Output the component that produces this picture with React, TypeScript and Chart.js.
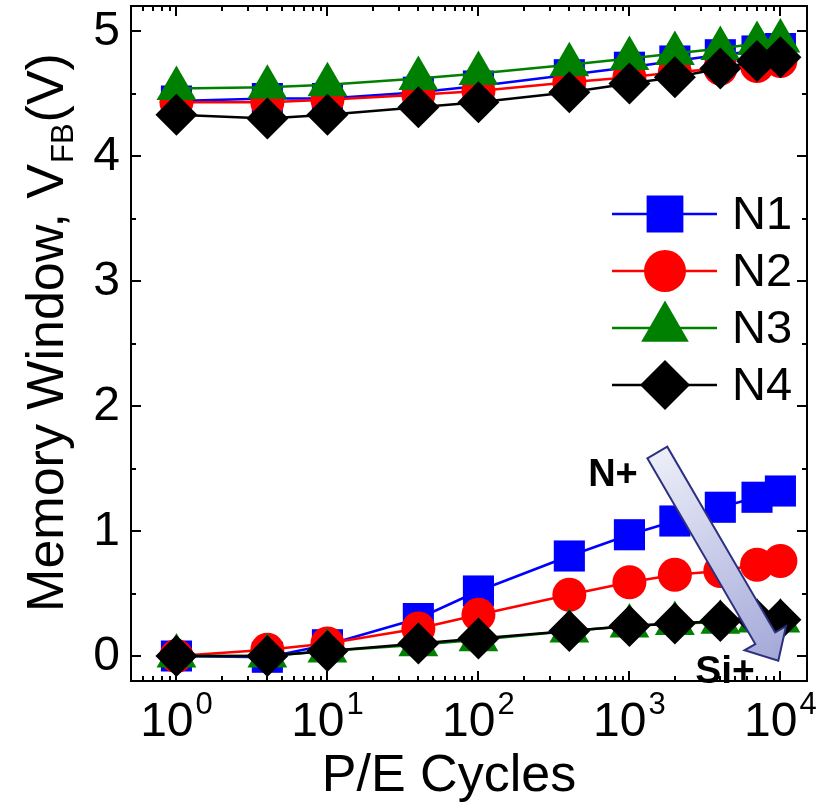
import React, { useEffect, useRef } from 'react';
import { Chart, registerables } from 'chart.js';

Chart.register(...registerables);

// ---- data ----
const CYCLES = [1, 4, 10, 40, 100, 400, 1000, 2000, 4000, 7000, 10000];

const N1_PROGRAM = [4.44, 4.46, 4.46, 4.51, 4.56, 4.65, 4.71, 4.76, 4.81, 4.84, 4.86];
const N1_ERASE = [0.0, -0.01, 0.09, 0.3, 0.52, 0.8, 0.97, 1.08, 1.19, 1.27, 1.32];
const N2_PROGRAM = [4.43, 4.43, 4.45, 4.49, 4.52, 4.59, 4.63, 4.67, 4.7, 4.72, 4.76];
const N2_ERASE = [0.0, 0.05, 0.1, 0.22, 0.33, 0.49, 0.59, 0.65, 0.68, 0.73, 0.76];
const N3_PROGRAM = [4.54, 4.55, 4.57, 4.62, 4.66, 4.73, 4.78, 4.82, 4.86, 4.9, 4.92];
const N3_ERASE = [0.0, 0.0, 0.04, 0.09, 0.13, 0.2, 0.24, 0.26, 0.27, 0.28, 0.28];
const N4_PROGRAM = [4.33, 4.3, 4.33, 4.39, 4.43, 4.51, 4.58, 4.63, 4.7, 4.76, 4.79];
const N4_ERASE = [0.0, 0.0, 0.04, 0.1, 0.14, 0.2, 0.24, 0.26, 0.28, 0.29, 0.29];

const SERIES_NAMES = ['N1', 'N2', 'N3', 'N4'];
const Y_TICK_VALUES = [0, 1, 2, 3, 4, 5];
const X_DECADES = [0, 1, 2, 3, 4];
const X_MIN = 0.5;
const X_MAX = 15000;
const Y_MIN = -0.2;
const Y_MAX = 5.2;

const X_TITLE = 'P/E Cycles';
const Y_TITLE_MAIN = 'Memory Window, V';
const Y_TITLE_SUB = 'FB';
const Y_TITLE_END = '(V)';

// annotation (in data coordinates)
const ARROW_TAIL = { x: 1530, y: 1.628 };
const ARROW_TIP = { x: 9683, y: -0.038 };
const NOTE_TOP = { text: 'N+', x: 778, y: 1.44 };
const NOTE_BOTTOM = { text: 'Si+', x: 4295, y: -0.128 };

// ---- styles ----
const FONT = '"Liberation Sans", Arial, Helvetica, sans-serif';
const STYLES = [
  { color: '#0000ff', shape: 'rect', radius: 22, legendRadius: 26 },
  { color: '#ff0000', shape: 'circle', radius: 17, legendRadius: 21 },
  { color: '#008000', shape: 'triangle', radius: 23, legendRadius: 27.5 },
  { color: '#000000', shape: 'rectRot', radius: 21, legendRadius: 25 },
];

function markerPath(ctx: CanvasRenderingContext2D, shape: string, x: number, y: number, r: number) {
  ctx.beginPath();
  if (shape === 'rect') {
    const s = r * Math.SQRT1_2;
    ctx.rect(x - s, y - s, 2 * s, 2 * s);
  } else if (shape === 'circle') {
    ctx.arc(x, y, r, 0, Math.PI * 2);
  } else if (shape === 'triangle') {
    const sx = r * Math.sin((2 * Math.PI) / 3);
    ctx.moveTo(x, y - r);
    ctx.lineTo(x + sx, y + r / 2);
    ctx.lineTo(x - sx, y + r / 2);
    ctx.closePath();
  } else {
    ctx.moveTo(x, y - r);
    ctx.lineTo(x + r, y);
    ctx.lineTo(x, y + r);
    ctx.lineTo(x - r, y);
    ctx.closePath();
  }
}

const decorPlugin = {
  id: 'decor',
  afterDatasetsDraw(chart: any) {
    const ctx: CanvasRenderingContext2D = chart.ctx;
    const xs = chart.scales.x;
    const ys = chart.scales.y;
    const { left, right, top, bottom } = chart.chartArea;
    ctx.save();

    // frame
    ctx.strokeStyle = '#000';
    ctx.lineWidth = 2;
    ctx.strokeRect(left, top, right - left, bottom - top);

    // y ticks (inward, both sides)
    for (let v = 0; v <= 5.0001; v += 0.5) {
      const py = Math.round(ys.getPixelForValue(v));
      const len = Math.abs(v - Math.round(v)) < 1e-6 ? 10 : 5;
      ctx.beginPath();
      ctx.moveTo(left, py);
      ctx.lineTo(left + len, py);
      ctx.moveTo(right, py);
      ctx.lineTo(right - len, py);
      ctx.stroke();
    }
    // x ticks
    const xTicks: { v: number; major: boolean }[] = [];
    for (let e = -1; e <= 4; e++) {
      for (let k = 1; k <= 9; k++) {
        const v = k * Math.pow(10, e);
        if (v <= X_MIN || v >= X_MAX) continue;
        xTicks.push({ v, major: k === 1 });
      }
    }
    for (const t of xTicks) {
      const px = Math.round(xs.getPixelForValue(t.v));
      const len = t.major ? 10 : 5;
      ctx.beginPath();
      ctx.moveTo(px, bottom);
      ctx.lineTo(px, bottom - len);
      ctx.moveTo(px, top);
      ctx.lineTo(px, top + len);
      ctx.stroke();
    }

    // y tick labels
    ctx.fillStyle = '#000';
    ctx.font = `48px ${FONT}`;
    ctx.textAlign = 'right';
    ctx.textBaseline = 'middle';
    for (const v of Y_TICK_VALUES) {
      ctx.fillText(String(v), left - 11, ys.getPixelForValue(v) + 1);
    }

    // x tick labels 10^n
    ctx.textBaseline = 'alphabetic';
    ctx.textAlign = 'left';
    for (const e of X_DECADES) {
      const px = xs.getPixelForValue(Math.pow(10, e));
      ctx.font = `48px ${FONT}`;
      const w1 = ctx.measureText('10').width;
      ctx.font = `31px ${FONT}`;
      const w2 = ctx.measureText(String(e)).width;
      const start = px - (w1 + 2 + w2) / 2;
      ctx.font = `48px ${FONT}`;
      ctx.fillText('10', start, bottom + 55);
      ctx.font = `31px ${FONT}`;
      ctx.fillText(String(e), start + w1 + 2, bottom + 33);
    }

    // x title
    ctx.font = `52px ${FONT}`;
    ctx.textAlign = 'center';
    ctx.fillText(X_TITLE, (left + right) / 2 - 20, bottom + 110);

    // y title (rotated)
    ctx.save();
    ctx.translate(63, (top + bottom) / 2 - 11);
    ctx.rotate(-Math.PI / 2);
    ctx.font = `52px ${FONT}`;
    const a = ctx.measureText(Y_TITLE_MAIN).width;
    ctx.font = `31px ${FONT}`;
    const b = ctx.measureText(Y_TITLE_SUB).width;
    ctx.font = `52px ${FONT}`;
    const c = ctx.measureText(Y_TITLE_END).width;
    let sx = -(a + b + c + 2) / 2;
    ctx.textAlign = 'left';
    ctx.fillText(Y_TITLE_MAIN, sx, 0);
    sx += a + 1;
    ctx.font = `31px ${FONT}`;
    ctx.fillText(Y_TITLE_SUB, sx, 10);
    sx += b + 1;
    ctx.font = `52px ${FONT}`;
    ctx.fillText(Y_TITLE_END, sx, 0);
    ctx.restore();

    // arrow
    const tx = xs.getPixelForValue(ARROW_TAIL.x);
    const ty = ys.getPixelForValue(ARROW_TAIL.y);
    const hx = xs.getPixelForValue(ARROW_TIP.x);
    const hy = ys.getPixelForValue(ARROW_TIP.y);
    const L = Math.hypot(hx - tx, hy - ty);
    const ux = (hx - tx) / L;
    const uy = (hy - ty) / L;
    const nx = -uy;
    const ny = ux;
    const hw = 11.5;
    const hh = 24;
    const hl = 26;
    const bx = hx - ux * hl;
    const by = hy - uy * hl;
    const pts = [
      [tx + nx * hw, ty + ny * hw],
      [bx + nx * hw, by + ny * hw],
      [bx + nx * hh, by + ny * hh],
      [hx, hy],
      [bx - nx * hh, by - ny * hh],
      [bx - nx * hw, by - ny * hw],
      [tx - nx * hw, ty - ny * hw],
    ];
    const grad = ctx.createLinearGradient(tx, ty, hx, hy);
    grad.addColorStop(0, '#eceef8');
    grad.addColorStop(1, '#a3a8d8');
    ctx.beginPath();
    ctx.moveTo(pts[0][0], pts[0][1]);
    for (let i = 1; i < pts.length; i++) ctx.lineTo(pts[i][0], pts[i][1]);
    ctx.closePath();
    ctx.fillStyle = grad;
    ctx.fill();
    ctx.strokeStyle = '#2d3080';
    ctx.lineWidth = 2;
    ctx.lineJoin = 'miter';
    ctx.stroke();

    // notes
    ctx.fillStyle = '#000';
    ctx.font = `bold 38px ${FONT}`;
    ctx.textAlign = 'center';
    ctx.textBaseline = 'middle';
    ctx.fillText(NOTE_TOP.text, xs.getPixelForValue(NOTE_TOP.x), ys.getPixelForValue(NOTE_TOP.y));
    ctx.font = `bold 39px ${FONT}`;
    ctx.fillText(NOTE_BOTTOM.text, xs.getPixelForValue(NOTE_BOTTOM.x), ys.getPixelForValue(NOTE_BOTTOM.y));

    // legend
    const lx0 = right - 195;
    const lx1 = right - 90;
    const mx = right - 142;
    const textX = right - 75;
    const rowY0 = top + 208;
    const rowGap = 57;
    SERIES_NAMES.forEach((name, i) => {
      const st = STYLES[i];
      const y = rowY0 + i * rowGap;
      ctx.strokeStyle = st.color;
      ctx.lineWidth = 2.5;
      ctx.beginPath();
      ctx.moveTo(lx0, y);
      ctx.lineTo(lx1, y);
      ctx.stroke();
      ctx.fillStyle = st.color;
      markerPath(ctx, st.shape, mx, y, st.legendRadius);
      ctx.fill();
      ctx.fillStyle = '#000';
      ctx.font = `47px ${FONT}`;
      ctx.textAlign = 'left';
      ctx.textBaseline = 'middle';
      ctx.fillText(name, textX, y + 2);
    });

    ctx.restore();
  },
};

export default function App() {
  const ref = useRef<HTMLCanvasElement | null>(null);
  useEffect(() => {
    if (!ref.current) return;
    const groups = [
      [N1_PROGRAM, N1_ERASE],
      [N2_PROGRAM, N2_ERASE],
      [N3_PROGRAM, N3_ERASE],
      [N4_PROGRAM, N4_ERASE],
    ];
    const datasets: any[] = [];
    groups.forEach((g, i) => {
      const st = STYLES[i];
      g.forEach((vals, j) => {
        datasets.push({
          label: SERIES_NAMES[i] + (j === 0 ? ' P' : ' E'),
          data: CYCLES.map((x, k) => ({ x, y: vals[k] })),
          borderColor: st.color,
          backgroundColor: st.color,
          borderWidth: 2.5,
          pointStyle: st.shape,
          pointRadius: st.radius,
          pointHoverRadius: st.radius,
          pointBorderWidth: 0,
          pointBackgroundColor: st.color,
          pointBorderColor: st.color,
          tension: 0,
          clip: false,
          order: 10 - i * 2 - j,
        });
      });
    });
    const chart = new Chart(ref.current, {
      type: 'line',
      data: { datasets },
      options: {
        responsive: false,
        animation: false,
        events: [],
        layout: { autoPadding: false, padding: { left: 131, right: 9, top: 6, bottom: 127 } },
        plugins: { legend: { display: false }, tooltip: { enabled: false } },
        scales: {
          x: { type: 'logarithmic', min: X_MIN, max: X_MAX, display: false },
          y: { type: 'linear', min: Y_MIN, max: Y_MAX, display: false },
        },
      },
      plugins: [decorPlugin],
    });
    return () => chart.destroy();
  }, []);
  return (
    <div style={{ position: 'absolute', left: 0, top: 0, width: 816, height: 808, background: '#fff' }}>
      <canvas ref={ref} width={816} height={808} style={{ display: 'block' }} />
    </div>
  );
}
